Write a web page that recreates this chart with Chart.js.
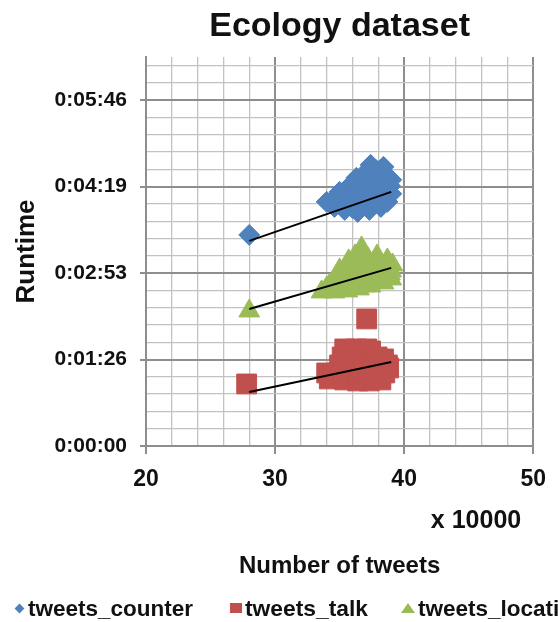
<!DOCTYPE html>
<html>
<head>
<meta charset="utf-8">
<script src="https://cdn.jsdelivr.net/npm/chart.js@4"></script>
<style>
  html, body { margin: 0; padding: 0; background: #fff; overflow: hidden; }
  #wrap { position: relative; width: 558px; height: 622px; }
  #legend { position: absolute; left: 0; top: 596px; width: 558px; height: 26px; overflow: hidden; white-space: nowrap;
            font: bold 22.5px Arial, "Liberation Sans", sans-serif; color: #111; }
  #legend span.t { position: absolute; top: 0; line-height: 26px; display: inline-block; transform-origin: 0 50%; }
  .mk { position: absolute; }
</style>
</head>
<body>
<div id="wrap">
  <canvas id="c"></canvas>
  <div id="legend"></div>
</div>
<script>
// ---- data (x in units of 10000 tweets, y = runtime in seconds) ----
const seriesNames = ['tweets_counter', 'tweets_talk', 'tweets_location'];

const counterX = [28.0, 37.4, 38.4, 38.1, 36.9, 39.0, 36.4, 35.7, 35.0, 37.4, 38.4, 39.0, 36.7, 35.7, 37.7, 38.7, 34.0, 34.6, 35.4, 36.4, 37.3, 38.2, 36.0, 37.0, 38.0, 37.8, 35.2, 36.8, 38.8,
                  34.5, 35.5, 36.0, 36.5, 37.8, 38.6, 37.0, 36.2, 37.8, 36.3, 35.3, 38.5, 37.2, 38.9];
const counterY = [211, 281, 279, 272, 272, 266, 264, 259, 254, 259, 254, 252, 249, 246, 246, 244, 244, 239, 236, 234, 236, 239, 252, 256, 262, 268, 249, 242, 258,
                  246, 242, 238, 258, 252, 248, 249, 245, 276, 268, 241, 265, 264, 260];

const talkX = [27.8, 37.1, 35.4, 36.3, 37.1, 37.4, 35.2, 36.1, 37.1, 37.9, 38.4, 35.0, 35.9, 36.8, 37.8, 38.7, 38.8, 34.0, 34.8, 35.7, 36.7, 37.6, 38.5, 34.2, 35.4, 36.4, 37.3, 38.2];
const talkY = [62, 127, 97, 97, 97, 95, 89, 89, 89, 89, 87, 81, 81, 81, 81, 81, 78, 73, 73, 73, 73, 73, 73, 67, 66, 65, 65, 66];

const locationX = [28.0, 36.7, 35.7, 37.9, 38.7, 39.1, 34.0, 35.0, 33.6, 34.6, 35.6, 36.5, 37.4, 38.4, 39.0, 35.4, 36.4, 37.3, 38.2, 39.0, 35.9, 36.9, 37.7, 34.6, 38.6,
                   34.2, 35.1, 36.0, 37.0, 38.0, 36.0, 37.0, 38.0, 38.3, 36.2, 37.2, 35.2, 34.8, 37.9, 36.6, 35.6, 36.9, 38.9];
const locationY = [135, 198, 185, 190, 186, 181, 158, 176, 154, 154, 155, 157, 160, 163, 167, 167, 170, 173, 175, 175, 180, 183, 180, 163, 170,
                   160, 160, 162, 165, 168, 175, 177, 182, 178, 190, 187, 172, 168, 172, 166, 158, 160, 172];

// linear trendlines (endpoints)
const trendX = [28, 39];
const counterTrend = [205, 254];
const talkTrend = [54, 84];
const locationTrend = [137, 178];

// axis ticks
const xTickLabels = ['20', '30', '40', '50'];
const yTickLabels = ['0:00:00', '0:01:26', '0:02:53', '0:04:19', '0:05:46'];
const yMajorStep = 86.4;   // 0.001 day
const yMinorStep = 17.28;  // 0.0002 day
const yMax = 388.8;        // 0.0045 day

const colors = { counter: '#4F81BD', talk: '#C0504D', location: '#9BBB59' };

const pts = (xs, ys) => xs.map((x, i) => ({ x: x, y: ys[i] }));

const majorGrid = '#8e8e8e', minorGrid = '#c2c2c2';
const isMajorX = v => Math.abs(v % 10) < 1e-6;
const isMajorY = v => Math.abs(v / yMajorStep - Math.round(v / yMajorStep)) < 1e-6;

Chart.defaults.font.family = 'Arial, "Liberation Sans", sans-serif';
Chart.defaults.color = '#111';

const extraLabel = {
  id: 'extraLabel',
  afterDraw(chart) {
    const ctx = chart.ctx, a = chart.chartArea;
    ctx.save();
    ctx.font = 'bold 25px Arial, "Liberation Sans", sans-serif';
    ctx.fillStyle = '#111';
    ctx.textAlign = 'right';
    ctx.textBaseline = 'middle';
    ctx.fillText('x 10000', a.right - 12, a.bottom + 75);
    ctx.restore();
  }
};

const trendStyle = { type: 'line', showLine: true, borderColor: '#000', borderWidth: 2, pointRadius: 0, fill: false, order: 0 };

new Chart(document.getElementById('c'), {
  type: 'scatter',
  data: {
    datasets: [
      Object.assign({ label: 'trend_counter', data: pts(trendX, counterTrend) }, trendStyle),
      Object.assign({ label: 'trend_location', data: pts(trendX, locationTrend) }, trendStyle),
      Object.assign({ label: 'trend_talk', data: pts(trendX, talkTrend) }, trendStyle),
      { label: seriesNames[0], data: pts(counterX, counterY), pointStyle: 'rectRot', pointRadius: 10.5,
        backgroundColor: colors.counter, borderColor: colors.counter, borderWidth: 1, order: 1 },
      { label: seriesNames[1], data: pts(talkX, talkY), pointStyle: 'rect', pointRadius: 14,
        backgroundColor: colors.talk, borderColor: colors.talk, borderWidth: 1, order: 1 },
      { label: seriesNames[2], data: pts(locationX, locationY), pointStyle: 'triangle', pointRadius: 12,
        backgroundColor: colors.location, borderColor: colors.location, borderWidth: 1, order: 1 }
    ]
  },
  options: {
    responsive: true,
    maintainAspectRatio: false,
    animation: false,
    events: [],
    layout: { padding: { left: 0, right: 23, top: 0, bottom: 40 } },
    plugins: {
      legend: { display: false },
      tooltip: { enabled: false },
      title: {
        display: true, text: 'Ecology dataset', fullSize: false,
        font: { size: 34, weight: 'bold' }, color: '#111',
        padding: { top: 6, bottom: 10.2 }
      }
    },
    scales: {
      x: {
        type: 'linear', min: 20, max: 50,
        afterFit: s => { s.height = 136; },
        ticks: {
          stepSize: 2, autoSkip: false, maxRotation: 0, padding: 12,
          font: { size: 23, weight: 'bold' }, color: '#111',
          callback: v => isMajorX(v) ? xTickLabels[Math.round((v - 20) / 10)] : ''
        },
        grid: {
          color: c => isMajorX(c.tick.value) ? majorGrid : minorGrid,
          lineWidth: c => isMajorX(c.tick.value) ? 2 : 1.3,
          tickColor: c => isMajorX(c.tick.value) ? majorGrid : 'rgba(0,0,0,0)',
          tickLength: 8, drawTicks: true
        },
        border: { color: majorGrid, width: 2 },
        title: {
          display: true, text: 'Number of tweets',
          font: { size: 24, weight: 'bold' }, color: '#111',
          padding: { top: 0, bottom: 1 }
        }
      },
      y: {
        type: 'linear', min: 0, max: yMax,
        afterFit: s => { s.width = 146; },
        ticks: {
          stepSize: yMinorStep, includeBounds: false, autoSkip: false, padding: 13,
          font: { size: 21, weight: 'bold' }, color: '#111',
          callback: v => isMajorY(v) ? yTickLabels[Math.round(v / yMajorStep)] : ''
        },
        grid: {
          color: c => isMajorY(c.tick.value) ? majorGrid : minorGrid,
          lineWidth: c => isMajorY(c.tick.value) ? 2 : 1.3,
          tickColor: c => isMajorY(c.tick.value) ? majorGrid : 'rgba(0,0,0,0)',
          tickLength: 6
        },
        border: { color: majorGrid, width: 2 },
        title: {
          display: true, text: 'Runtime',
          font: { size: 26, weight: 'bold' }, color: '#111',
          padding: { top: 11, bottom: 0 }
        }
      }
    }
  },
  plugins: [extraLabel]
});

// HTML legend (clipped at the right edge like the original)
const legend = document.getElementById('legend');
const items = [
  { name: seriesNames[0], color: colors.counter, shape: 'diamond', mk: 16, tx: 28, w: 165 },
  { name: seriesNames[1], color: colors.talk, shape: 'square', mk: 230, tx: 245, w: 123 },
  { name: seriesNames[2], color: colors.location, shape: 'triangle', mk: 401, tx: 418, w: 0 }
];
items.forEach(it => {
  const m = document.createElement('div');
  m.className = 'mk';
  if (it.shape === 'diamond') {
    Object.assign(m.style, { left: it.mk + 'px', top: '9px', width: '7px', height: '7px', background: it.color, transform: 'rotate(45deg)' });
  } else if (it.shape === 'square') {
    Object.assign(m.style, { left: it.mk + 'px', top: '7px', width: '12px', height: '10px', background: it.color });
  } else {
    Object.assign(m.style, { left: it.mk + 'px', top: '7px', width: '0', height: '0', borderLeft: '7px solid transparent', borderRight: '7px solid transparent', borderBottom: '10px solid ' + it.color });
  }
  legend.appendChild(m);
  const t = document.createElement('span');
  t.className = 't';
  t.style.left = it.tx + 'px';
  t.textContent = it.name;
  legend.appendChild(t);
  if (it.w) {
    const actual = t.getBoundingClientRect().width;
    if (actual > 0) t.style.transform = 'scaleX(' + (it.w / actual).toFixed(3) + ')';
  }
});
</script>
</body>
</html>
